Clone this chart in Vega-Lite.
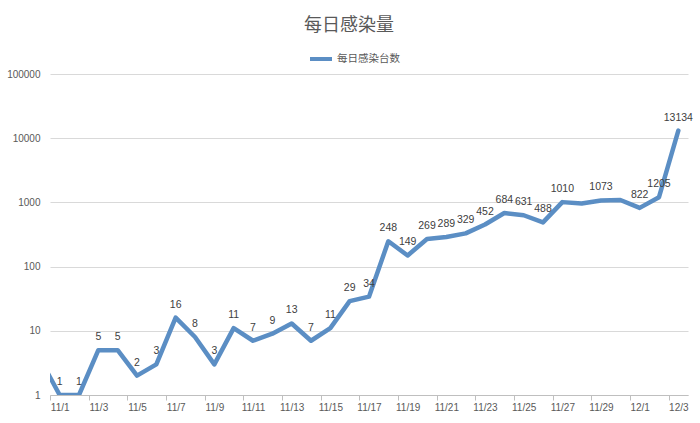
{
  "$schema": "https://vega.github.io/schema/vega-lite/v6.json",
  "width": 638,
  "height": 321,
  "autosize": {"type": "none"},
  "padding": {"left": 50, "top": 74, "right": 12, "bottom": 28},
  "background": "white",
  "title": {
    "text": "每日感染量",
    "font": "Noto Sans CJK SC",
    "fontSize": 18,
    "fontWeight": "normal",
    "color": "#595959",
    "anchor": "middle",
    "dx": -20,
    "offset": 11
  },
  "data": {
    "values": [
      {"date": "2019-10-31", "value": 3.6, "label": null},
      {"date": "2019-11-01", "value": 1, "label": "1"},
      {"date": "2019-11-02", "value": 1, "label": "1"},
      {"date": "2019-11-03", "value": 5, "label": "5"},
      {"date": "2019-11-04", "value": 5, "label": "5"},
      {"date": "2019-11-05", "value": 2, "label": "2"},
      {"date": "2019-11-06", "value": 3, "label": "3"},
      {"date": "2019-11-07", "value": 16, "label": "16"},
      {"date": "2019-11-08", "value": 8, "label": "8"},
      {"date": "2019-11-09", "value": 3, "label": "3"},
      {"date": "2019-11-10", "value": 11, "label": "11"},
      {"date": "2019-11-11", "value": 7, "label": "7"},
      {"date": "2019-11-12", "value": 9, "label": "9"},
      {"date": "2019-11-13", "value": 13, "label": "13"},
      {"date": "2019-11-14", "value": 7, "label": "7"},
      {"date": "2019-11-15", "value": 11, "label": "11"},
      {"date": "2019-11-16", "value": 29, "label": "29"},
      {"date": "2019-11-17", "value": 34, "label": "34"},
      {"date": "2019-11-18", "value": 248, "label": "248"},
      {"date": "2019-11-19", "value": 149, "label": "149"},
      {"date": "2019-11-20", "value": 269, "label": "269"},
      {"date": "2019-11-21", "value": 289, "label": "289"},
      {"date": "2019-11-22", "value": 329, "label": "329"},
      {"date": "2019-11-23", "value": 452, "label": "452"},
      {"date": "2019-11-24", "value": 684, "label": "684"},
      {"date": "2019-11-25", "value": 631, "label": "631"},
      {"date": "2019-11-26", "value": 488, "label": "488"},
      {"date": "2019-11-27", "value": 1010, "label": "1010"},
      {"date": "2019-11-28", "value": 960, "label": null},
      {"date": "2019-11-29", "value": 1073, "label": "1073"},
      {"date": "2019-11-30", "value": 1090, "label": null},
      {"date": "2019-12-01", "value": 822, "label": "822"},
      {"date": "2019-12-02", "value": 1205, "label": "1205"},
      {"date": "2019-12-03", "value": 13134, "label": "13134"}
    ]
  },
  "encoding": {
    "x": {
      "field": "date",
      "type": "temporal",
      "scale": {
        "type": "utc",
        "domain": [
          {"year": 2019, "month": 10, "date": 31, "hours": 12, "utc": true},
          {"year": 2019, "month": 12, "date": 3, "hours": 12, "utc": true}
        ]
      },
      "axis": {
        "title": null,
        "grid": false,
        "values": [
          {"year": 2019, "month": 11, "date": 1, "utc": true},
          {"year": 2019, "month": 11, "date": 3, "utc": true},
          {"year": 2019, "month": 11, "date": 5, "utc": true},
          {"year": 2019, "month": 11, "date": 7, "utc": true},
          {"year": 2019, "month": 11, "date": 9, "utc": true},
          {"year": 2019, "month": 11, "date": 11, "utc": true},
          {"year": 2019, "month": 11, "date": 13, "utc": true},
          {"year": 2019, "month": 11, "date": 15, "utc": true},
          {"year": 2019, "month": 11, "date": 17, "utc": true},
          {"year": 2019, "month": 11, "date": 19, "utc": true},
          {"year": 2019, "month": 11, "date": 21, "utc": true},
          {"year": 2019, "month": 11, "date": 23, "utc": true},
          {"year": 2019, "month": 11, "date": 25, "utc": true},
          {"year": 2019, "month": 11, "date": 27, "utc": true},
          {"year": 2019, "month": 11, "date": 29, "utc": true},
          {"year": 2019, "month": 12, "date": 1, "utc": true},
          {"year": 2019, "month": 12, "date": 3, "utc": true}
        ],
        "labelExpr": "utcFormat(datum.value, '%-m/%-d')",
        "tickOffset": -9.67,
        "labelOffset": 9.67,
        "tickSize": 5,
        "tickColor": "#bfbfbf",
        "domainColor": "#bfbfbf",
        "labelPadding": 2,
        "labelFont": "Liberation Sans",
        "labelFontSize": 10,
        "labelColor": "#595959",
        "labelFlush": false,
        "labelOverlap": false
      }
    },
    "y": {
      "field": "value",
      "type": "quantitative",
      "scale": {"type": "log", "domain": [1, 100000], "nice": false},
      "axis": {
        "title": null,
        "values": [1, 10, 100, 1000, 10000, 100000],
        "format": "d",
        "domain": false,
        "ticks": false,
        "gridColor": "#d9d9d9",
        "labelPadding": 10,
        "labelFont": "Liberation Sans",
        "labelFontSize": 10,
        "labelColor": "#595959"
      }
    }
  },
  "layer": [
    {
      "mark": {
        "type": "line",
        "clip": true,
        "strokeWidth": 4.5,
        "strokeJoin": "round",
        "strokeCap": "round"
      },
      "encoding": {
        "color": {
          "datum": "每日感染台数",
          "scale": {"range": ["#5b8ec4"]},
          "legend": {
            "orient": "none",
            "legendX": 258,
            "legendY": -28,
            "title": null,
            "symbolType": "stroke",
            "symbolSize": 484,
            "symbolStrokeWidth": 4,
            "labelFont": "Noto Sans CJK SC",
            "labelFontSize": 10.5,
            "labelColor": "#595959",
            "labelOffset": 3,
            "padding": 0
          }
        }
      }
    },
    {
      "transform": [{"filter": "datum.label != null"}],
      "mark": {
        "type": "text",
        "baseline": "bottom",
        "dy": -8,
        "font": "Liberation Sans",
        "fontSize": 10.5,
        "color": "#404040"
      },
      "encoding": {
        "text": {"field": "label"}
      }
    }
  ],
  "config": {
    "view": {"stroke": null}
  }
}
